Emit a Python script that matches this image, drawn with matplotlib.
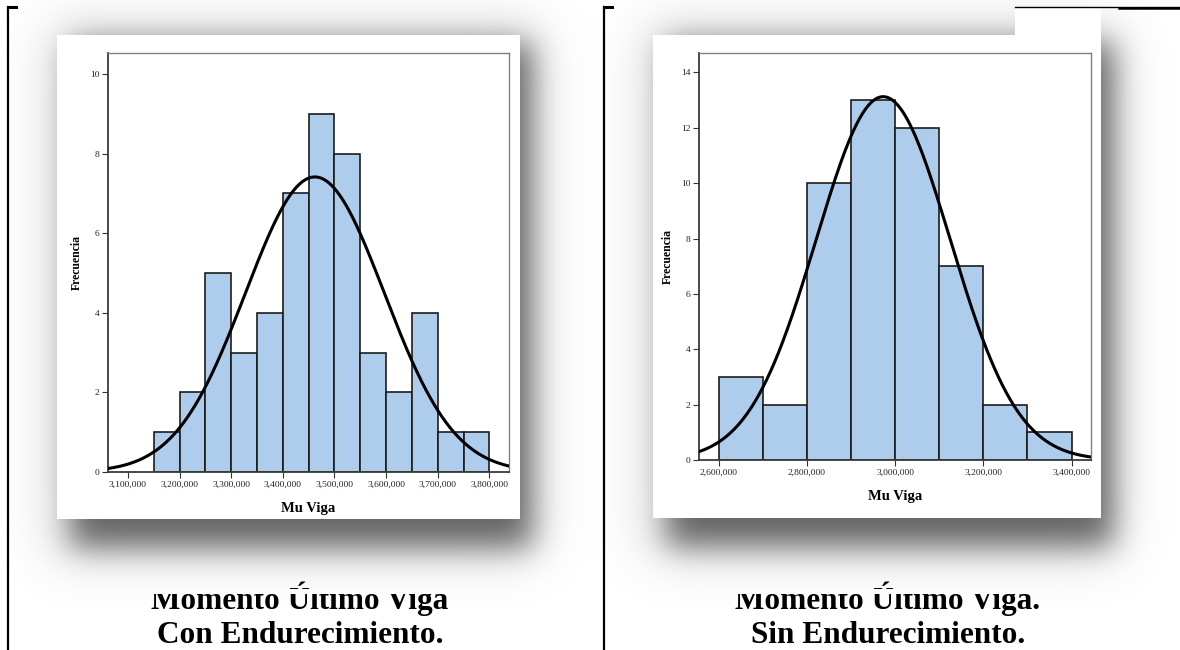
import numpy as np
import matplotlib

matplotlib.use('Agg')
import matplotlib.pyplot as plt
from matplotlib.patches import Rectangle

# bin counts of Mu Viga (50 samples per case)
con_edges = [3150000 + 50000 * i for i in range(14)]
con_counts = [1, 2, 5, 3, 4, 7, 9, 8, 3, 2, 4, 1, 1]
con_mean, con_sd = 3462000, 134500
con_xticks = [3100000, 3200000, 3300000, 3400000, 3500000, 3600000, 3700000, 3800000]
con_yticks = [0, 2, 4, 6, 8, 10]

sin_edges = [2600000 + 100000 * i for i in range(9)]
sin_counts = [3, 2, 10, 13, 12, 7, 2, 1]
sin_mean, sin_sd = 2973000, 152000
sin_xticks = [2600000, 2800000, 3000000, 3200000, 3400000]
sin_yticks = [0, 2, 4, 6, 8, 10, 12, 14]

captions = [('Momento Último Viga', 'Con Endurecimiento.'),
            ('Momento Último Viga.', 'Sin Endurecimiento.')]

W, H = 1180, 650
BAR = '#aecdec'
SERIF = ['Liberation Serif', 'DejaVu Serif']


def blur(a, s):
    r = int(3 * s)
    k = np.exp(-0.5 * (np.arange(-r, r + 1) / s) ** 2)
    k /= k.sum()
    a = np.apply_along_axis(lambda m: np.convolve(m, k, mode='same'), 0, a)
    a = np.apply_along_axis(lambda m: np.convolve(m, k, mode='same'), 1, a)
    return a


def rect_mask(x0, y0, x1, y1):
    m = np.zeros((H, W))
    m[max(y0, 0):min(y1, H), max(x0, 0):min(x1, W)] = 1.0
    return m


def histogram(ax, edges, counts, mean, sd, xlim, ylim, xticks, yticks):
    width = edges[1] - edges[0]
    ax.bar(edges[:-1], counts, width=width, align='edge', color=BAR,
           edgecolor='#1c1c1c', linewidth=1.2, zorder=2)
    # normal curve scaled to the histogram
    n = sum(counts)
    xs = np.linspace(xlim[0], xlim[1], 400)
    ys = n * width / (sd * np.sqrt(2 * np.pi)) * np.exp(-0.5 * ((xs - mean) / sd) ** 2)
    ax.plot(xs, ys, color='black', linewidth=2.2, zorder=3, solid_capstyle='round')
    ax.set_xlim(xlim)
    ax.set_ylim(ylim)
    ax.set_xticks(xticks)
    ax.set_xticklabels(['{:,}'.format(v) for v in xticks])
    ax.set_yticks(yticks)
    ax.tick_params(length=4, width=0.8, color='#333333', labelsize=6.8,
                   labelcolor='#222222', pad=2)
    for lab in ax.get_xticklabels() + ax.get_yticklabels():
        lab.set_family(SERIF)
    for side in ('top', 'right'):
        ax.spines[side].set_color('#808080')
        ax.spines[side].set_linewidth(1.0)
    for side in ('left', 'bottom'):
        ax.spines[side].set_color('#3a3a3a')
        ax.spines[side].set_linewidth(1.3)
    ax.set_ylabel('Frecuencia', family=SERIF, fontweight='bold', fontsize=8.5,
                  labelpad=5)
    ax.set_xlabel('Mu Viga', family=SERIF, fontweight='bold', fontsize=10.5,
                  labelpad=10)


fig = plt.figure(figsize=(W / 100, H / 100), dpi=100)
bg = fig.add_axes([0, 0, 1, 1])
bg.set_xlim(0, W)
bg.set_ylim(H, 0)
bg.axis('off')

# cards (x0, y0, x1, y1) in pixels
cards = [(57, 35, 520, 519), (653, 35, 1101, 518)]

# drop shadow below and right of each card
alpha = np.zeros((H, W))
for x0, y0, x1, y1 in cards:
    core = blur(rect_mask(x0 + 14, y0 + 8, x1 + 12, y1 + 28), 15) * 0.55
    halo = blur(rect_mask(x0 - 10, y0 - 12, x1 + 20, y1 + 40), 28) * 0.13
    alpha = 1 - (1 - alpha) * (1 - core) * (1 - halo)
shadow = np.zeros((H, W, 4))
shadow[..., 3] = alpha
bg.imshow(shadow, extent=(0, W, H, 0), zorder=3, interpolation='bilinear')
bg.set_xlim(0, W)
bg.set_ylim(H, 0)

for x0, y0, x1, y1 in cards:
    bg.add_patch(Rectangle((x0, y0), x1 - x0, y1 - y0, facecolor='white',
                           edgecolor='none', zorder=4))
bg.add_patch(Rectangle((1015, 8), 86, 27, facecolor='white', edgecolor='none', zorder=3.5))

# captions under each panel; the top of the first line sits under the
# shadow image, only the accent of the U pokes through
renderer = fig.canvas.get_renderer()
inv = bg.transData.inverted()
cap_font = dict(family=SERIF, fontweight='bold', fontsize=22.5)
for cx, (l1, l2) in zip([300, 888], captions):
    t1 = bg.text(cx, 609, l1, ha='center', va='baseline', zorder=1, **cap_font)
    bg.text(cx, 643, l2, ha='center', va='baseline', zorder=1, **cap_font)
    left = inv.transform(t1.get_window_extent(renderer))[0][0]
    pre = bg.text(0, 0, 'Momento ', **cap_font)
    uu = bg.text(0, 0, 'Momento Ú', **cap_font)
    u0 = left + pre.get_window_extent(renderer).width
    u1 = left + uu.get_window_extent(renderer).width
    pre.remove()
    uu.remove()
    bg.add_patch(Rectangle((cx - 200, 560), u0 + 2 - (cx - 200), 34,
                           facecolor='white', edgecolor='none', zorder=2))
    bg.add_patch(Rectangle((u1 - 2, 560), cx + 200 - (u1 - 2), 34,
                           facecolor='white', edgecolor='none', zorder=2))
    bg.add_patch(Rectangle((u0, 589), u1 - u0, 5,
                           facecolor='white', edgecolor='none', zorder=2))

# table borders
for x in (8, 604):
    bg.plot([x, x], [7, H], color='black', linewidth=1.6, zorder=5)
    bg.plot([x, x + 8], [7, 7], color='black', linewidth=2.2, zorder=5)
bg.plot([1015, W], [7, 7], color='black', linewidth=1.0, zorder=5)
bg.plot([1119, W], [7.5, 7.5], color='black', linewidth=1.8, zorder=5)


def px_axes(x0, y0, x1, y1):
    return fig.add_axes([x0 / W, (H - y1) / H, (x1 - x0) / W, (y1 - y0) / H])


ax1 = px_axes(108, 53, 509, 472)
histogram(ax1, con_edges, con_counts, con_mean, con_sd,
          (3061300, 3838000), (0, 10.53), con_xticks, con_yticks)

ax2 = px_axes(699, 53, 1091, 460)
histogram(ax2, sin_edges, sin_counts, sin_mean, sin_sd,
          (2555500, 3444000), (0, 14.7), sin_xticks, sin_yticks)

fig.savefig('out.png', dpi=100)
